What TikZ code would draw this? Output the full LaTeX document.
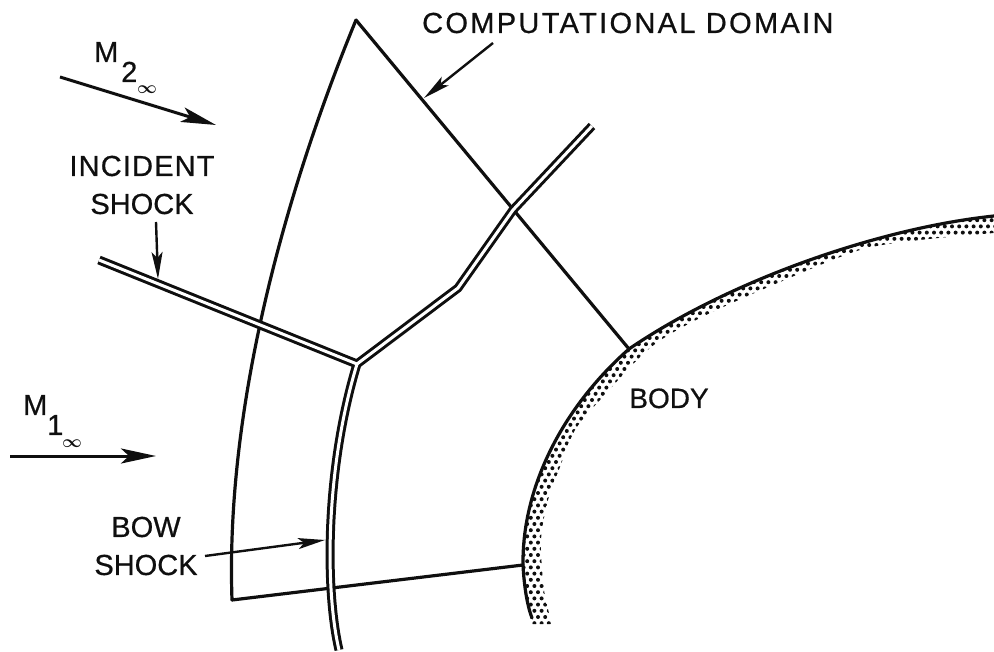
\documentclass[tikz,border=0pt]{standalone}
\usepackage{fontspec}
\setmainfont{Liberation Sans}[FakeBold=0.6]
\usetikzlibrary{arrows.meta}
\colorlet{ink}{black!94}
\tikzset{
  lab/.style={font=\fontsize{29}{38}\selectfont,inner sep=0pt,align=center,text=ink},
  ln/.style={line width=3.2pt,ink,line cap=round},
  arr/.style={line width=2.4pt,ink,-{Stealth[length=27pt,width=11pt,inset=6pt]}},
  bigarr/.style={line width=3pt,ink,-{Stealth[length=35pt,width=15pt,inset=8pt]}},
  shockout/.style={line width=9pt,ink,line join=round},
  shockin/.style={line width=3pt,white,line join=round},
  inf/.style={font=\fontsize{17}{17}\selectfont\boldmath,inner sep=0pt,text=ink}
}
\begin{document}
\begin{tikzpicture}[x=1pt,y=-1pt]
\useasboundingbox (0,0) rectangle (994,652);
\coordinate (A) at (356,20);
\coordinate (B) at (629,349);
\coordinate (C) at (232,600);
\coordinate (D) at (523,565);
% body stipple
\begin{scope}
\clip (994,216) .. controls (880,228) and (730,280) .. (629,349) .. controls (560,410) and (522,490) .. (523,565) .. controls (524,585) and (527,605) .. (532,624) -- plot[smooth] coordinates {(552,624) (544,590) (541,540) (548,500) (560,467) (575,430) (600,400) (650,348) (700,318) (780,282) (860,250) (920,240) (994,233)} -- cycle;
\foreach \i in {0,...,68}{\foreach \j in {0,...,66}{
  \fill[ink] ({520+\i*7.2+mod(\j,2)*3.6},{214+\j*6.2}) circle (2);
}}
\end{scope}
\draw[ln] (994,216) .. controls (880,228) and (730,280) .. (629,349) .. controls (560,410) and (522,490) .. (523,565) .. controls (524,585) and (527,605) .. (532,618);
% domain
\draw[ln] (A) -- (B);
\draw[ln] (C) -- (D);
\draw[ln] (A) .. controls (290,180) and (225,400) .. (232,600);
% shocks
\foreach \s in {shockout,shockin}{
\draw[\s] (99,260) -- (357,364);
\draw[\s] (339,650) .. controls (325,590) and (325,470) .. (357,364);
\draw[\s] (357,364) -- (458,288) -- (513,210) -- (592,126);
}
% arrows
\coordinate (m2a) at (60,77); \coordinate (m2b) at (216,125);
\draw[bigarr] (m2a) -- (m2b);
\coordinate (m1a) at (10,456); \coordinate (m1b) at (156,456);
\draw[bigarr] (m1a) -- (m1b);
\node[lab,anchor=west] (cd) at (422,23) {\addfontfeature{LetterSpace=8}COMPUTATIONAL DOMAIN};
\coordinate (cdf) at (493,43); \coordinate (cdt) at (424,98);
\draw[arr] (cdf) -- (cdt);
\node[lab] (is) at (142,185) {\addfontfeature{LetterSpace=4}INCIDENT\\SHOCK};
\coordinate (isf) at (156,222); \coordinate (ist) at (158,279);
\draw[arr] (isf) -- (ist);
\node[lab] (bs) at (146,546) {BOW\\SHOCK};
\coordinate (bsf) at (205,556); \coordinate (bst) at (325,540);
\draw[arr] (bsf) -- (bst);
\node[lab,font=\fontsize{28}{36}\selectfont,anchor=base] (body) at (669,408) {BODY};
\node[lab,anchor=base west] (m2) at (94,62) {M};
\node[lab,anchor=base west] (m2s) at (121,82) {2};
\node[inf] (m2i) at (147,90) {$\infty$};
\node[lab,anchor=base west] (m1) at (23,415) {M};
\node[lab,anchor=base west] (m1s) at (47,435) {1};
\node[inf] (m1i) at (72,444) {$\infty$};
\end{tikzpicture}
\end{document}
